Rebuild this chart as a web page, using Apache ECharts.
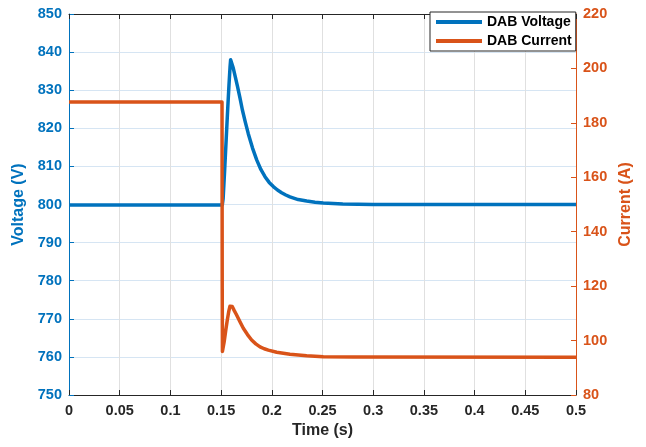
<!DOCTYPE html>
<html>
<head>
<meta charset="utf-8">
<script src="https://cdn.jsdelivr.net/npm/echarts@6/dist/echarts.min.js"></script>
<style>html,body{margin:0;padding:0;background:#fff;}#c{width:646px;height:447px;}</style>
</head>
<body>
<div id="c"></div>
<script>
// Voltage (left axis)
const timeV = [0, 0.1512, 0.1520, 0.1535, 0.1550, 0.1565, 0.1578, 0.1588, 0.1594, 0.1600, 0.1608, 0.1620, 0.1640, 0.1660, 0.1686, 0.1710, 0.1740, 0.1768, 0.1810, 0.1851, 0.1892, 0.1933, 0.1974, 0.2015, 0.2056, 0.2097, 0.2138, 0.2179, 0.2260, 0.2344, 0.2426, 0.2508, 0.2700, 0.30, 0.5];
const voltage = [799.9, 799.9, 801.5, 809, 817, 825, 831.5, 836, 838, 838.3, 837.6, 835.8, 833.5, 831.2, 828.0, 824.8, 821.5, 818.6, 814.8, 811.7, 809.2, 807.3, 805.8, 804.7, 803.8, 803.1, 802.5, 802.0, 801.3, 800.9, 800.6, 800.4, 800.1, 800.0, 800.0];
// Current (right axis)
const timeI = [0, 0.1509, 0.1511, 0.1513, 0.1517, 0.1530, 0.1545, 0.1560, 0.1575, 0.1587, 0.1596, 0.1610, 0.1630, 0.1653, 0.1686, 0.1719, 0.1760, 0.1801, 0.1842, 0.1884, 0.1925, 0.1966, 0.2048, 0.2179, 0.2344, 0.2508, 0.28, 0.5];
const current = [187.7, 187.7, 120, 96.0, 95.8, 99.5, 103.5, 107.3, 110.6, 112.6, 113.1, 112.5, 111.0, 109.4, 106.9, 104.5, 102.2, 100.2, 98.8, 97.7, 97.0, 96.5, 95.7, 95.0, 94.4, 94.1, 93.95, 93.9];

const seriesNames = ['DAB Voltage', 'DAB Current'];
const xTitle = 'Time (s)';
const yLeftTitle = 'Voltage (V)';
const yRightTitle = 'Current (A)';

const BLUE = '#0072BD', ORANGE = '#D95319', DARK = '#262626';
const FONT = 'Liberation Sans, Arial, sans-serif';

const vData = timeV.map((t, i) => [t, voltage[i]]);
const iData = timeI.map((t, i) => [t, current[i]]);

const chart = echarts.init(document.getElementById('c'), null, {renderer: 'canvas'});
chart.setOption({
  animation: false,
  backgroundColor: '#fff',
  grid: {left: 69, right: 70, top: 14, bottom: 52, containLabel: false},
  legend: {
    orient: 'vertical', left: 430, top: 12,
    data: seriesNames,
    icon: 'rect', itemWidth: 46, itemHeight: 4, itemGap: 5,
    padding: [3, 4, 3, 6],
    backgroundColor: '#fff', borderColor: DARK, borderWidth: 1,
    textStyle: {fontFamily: FONT, fontWeight: 'bold', fontSize: 14, color: '#000', lineHeight: 14}
  },
  xAxis: [{
    type: 'value', min: 0, max: 0.5, interval: 0.05,
    name: xTitle, nameLocation: 'middle', nameGap: 28,
    nameTextStyle: {fontFamily: FONT, fontWeight: 'bold', fontSize: 16, color: DARK},
    axisLine: {show: true, onZero: false, lineStyle: {color: DARK, width: 1}},
    axisTick: {show: true, inside: true, length: 5, lineStyle: {color: DARK}},
    axisLabel: {fontFamily: FONT, fontWeight: 'bold', fontSize: 14.5, color: DARK, margin: 8,
      formatter: v => String(parseFloat(v.toFixed(2)))},
    splitLine: {show: true, lineStyle: {color: '#e0e0e0', width: 1}}
  }, {
    type: 'value', position: 'top', min: 0, max: 0.5, interval: 0.05,
    axisLine: {show: true, onZero: false, lineStyle: {color: DARK, width: 1}},
    axisTick: {show: true, inside: true, length: 5, lineStyle: {color: DARK}},
    axisLabel: {show: false}, splitLine: {show: false}
  }],
  yAxis: [{
    type: 'value', min: 750, max: 850, interval: 10, position: 'left',
    name: yLeftTitle, nameLocation: 'middle', nameGap: 40, nameRotate: 90,
    nameTextStyle: {fontFamily: FONT, fontWeight: 'bold', fontSize: 16, color: BLUE},
    axisLine: {show: true, onZero: false, lineStyle: {color: BLUE, width: 1}},
    axisTick: {show: true, inside: true, length: 5, lineStyle: {color: BLUE}},
    axisLabel: {fontFamily: FONT, fontWeight: 'bold', fontSize: 14.5, color: BLUE, margin: 7},
    splitLine: {show: true, lineStyle: {color: '#d6e5f3', width: 1}}
  }, {
    type: 'value', min: 80, max: 220, interval: 20, position: 'right',
    name: yRightTitle, nameLocation: 'middle', nameGap: 41, nameRotate: 90,
    nameTextStyle: {fontFamily: FONT, fontWeight: 'bold', fontSize: 16, color: ORANGE},
    axisLine: {show: true, onZero: false, lineStyle: {color: ORANGE, width: 1}},
    axisTick: {show: true, inside: true, length: 5, lineStyle: {color: ORANGE}},
    axisLabel: {fontFamily: FONT, fontWeight: 'bold', fontSize: 14.5, color: ORANGE, margin: 7},
    splitLine: {show: false}
  }],
  series: [{
    name: seriesNames[0], type: 'line', xAxisIndex: 0, yAxisIndex: 0,
    data: vData, showSymbol: false, smooth: false,
    lineStyle: {color: BLUE, width: 3.5, join: 'round', cap: 'butt'}, itemStyle: {color: BLUE}, z: 2
  }, {
    name: seriesNames[1], type: 'line', xAxisIndex: 0, yAxisIndex: 1,
    data: iData, showSymbol: false, smooth: false,
    lineStyle: {color: ORANGE, width: 3.5, join: 'round', cap: 'butt'}, itemStyle: {color: ORANGE}, z: 3
  }]
});
</script>
</body>
</html>
